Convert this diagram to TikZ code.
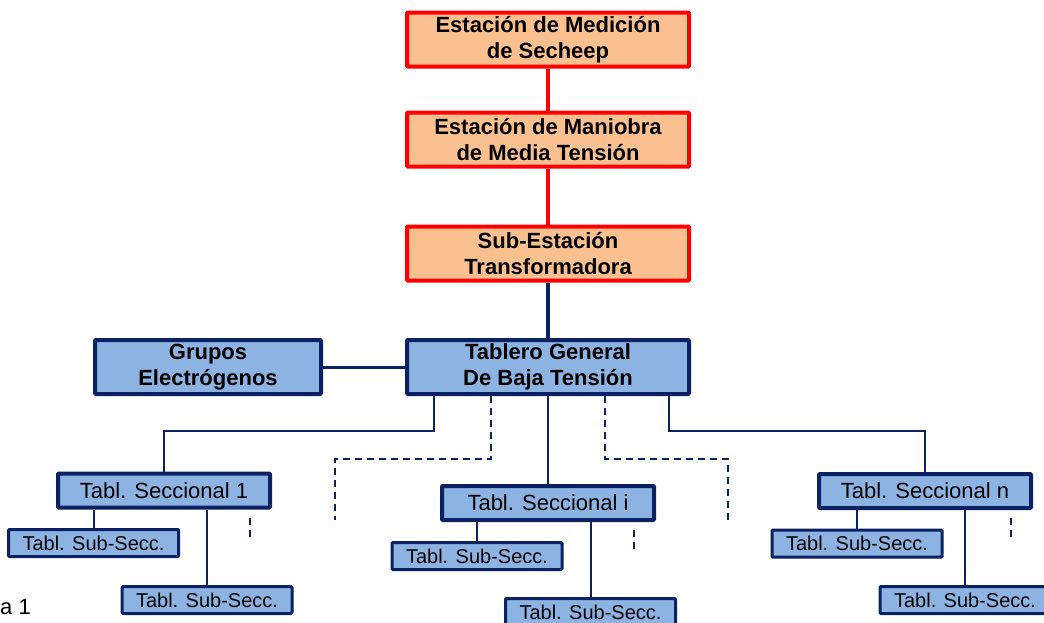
\documentclass[tikz,border=0pt]{standalone}
\usepackage{fontspec}
\setmainfont{Liberation Sans}
\usetikzlibrary{positioning}
\usetikzlibrary{calc}

\definecolor{peach}{HTML}{FAC090}
\definecolor{skyfill}{HTML}{8DB3E2}
\definecolor{navy}{HTML}{0A2264}

\begin{document}
\begin{tikzpicture}[x=1pt, y=-1pt,
    redbox/.style={draw=red, fill=peach, line width=4pt, rounded corners=1pt, minimum width=282pt, minimum height=54pt, inner sep=0pt, align=center, font=\fontsize{22}{26}\selectfont\bfseries},
    bigbox/.style={draw=navy, fill=skyfill, line width=4pt, rounded corners=1pt, minimum height=54pt, inner sep=0pt, align=center, font=\fontsize{22}{26}\selectfont\bfseries},
    secbox/.style={draw=navy, fill=skyfill, line width=4pt, rounded corners=1pt, minimum width=212pt, minimum height=34pt, inner sep=0pt, font=\fontsize{22}{26}\selectfont},
    subbox/.style={draw=navy, fill=skyfill, line width=3pt, rounded corners=1pt, minimum width=170pt, minimum height=27pt, inner sep=0pt, font=\fontsize{20}{24}\selectfont},
    redline/.style={draw=red, line width=4pt},
    mainline/.style={draw=navy, line width=2.5pt},
    subline/.style={draw=navy, line width=2pt},
    dashline/.style={draw=navy, line width=2pt, dash pattern=on 7pt off 5pt}]

      % Page frame
      \useasboundingbox (0,0) rectangle (1044,622);

      % Medium voltage chain
      \node[redbox] (med) at (548, 39.5) {Estación de Medición\\de Secheep};
      \node[redbox] (man) at (548, 139.5) {Estación de Maniobra\\de Media Tensión};
      \node[redbox] (set) at (548, 253.5) {Sub-Estación\\Transformadora};

      % Low voltage board and generators
      \node[bigbox, minimum width=282pt] (tgbt) at (548, 367) {Tablero General\\De Baja Tensión};
      \node[bigbox, minimum width=226pt] (gen) at (208, 367) {Grupos\\Electrógenos};

      \draw[redline] (med) -- (man);
      \draw[redline] (man) -- (set);
      \draw[navy, line width=4pt] (set) -- (tgbt);
      \draw[navy, line width=3pt] (gen) -- (tgbt);

      % Sectional boards
      \node[secbox] (sec1) at (164, 490.5) {Tabl. Seccional 1};
      \node[secbox] (seci) at (548, 503) {Tabl. Seccional i};
      \node[secbox] (secn) at (925, 491) {Tabl. Seccional n};

      \draw[mainline] ([xshift=-114pt]tgbt.south) -- ++(0,35) -| (sec1.north);
      \draw[mainline] (tgbt.south) -- (seci.north);
      \draw[mainline] ([xshift=121pt]tgbt.south) -- ++(0,35) -| (secn.north);

      % Boards not shown
      \draw[dashline] ([xshift=-57pt]tgbt.south) -- ++(0,63) -- ++(-156,0) -- ++(0,61);
      \draw[dashline] ([xshift=57pt]tgbt.south) -- ++(0,63) -- ++(123,0) -- ++(0,61);

      % Sub-sectional boards
      \node[subbox] (s1a) at (93.5, 543) {Tabl. Sub-Secc.};
      \node[subbox] (s1b) at (207, 600) {Tabl. Sub-Secc.};
      \node[subbox] (sia) at (477, 556) {Tabl. Sub-Secc.};
      \node[subbox] (sib) at (590.5, 612) {Tabl. Sub-Secc.};
      \node[subbox] (sna) at (857, 543.5) {Tabl. Sub-Secc.};
      \node[subbox] (snb) at (965, 600) {Tabl. Sub-Secc.};

      \foreach \s/\a/\b in {sec1/s1a/s1b, seci/sia/sib, secn/sna/snb} {
        \draw[subline] (\s.south -| \a.north) -- (\a.north);
        \draw[subline] (\s.south -| \b.north) -- (\b.north);
        % More sub-sectional boards
        \draw[dashline] ([xshift=86pt, yshift=-8pt]\s.south) -- ++(0,20);
      }

      % Caption, cut by the page edge
      \node[anchor=base west, inner sep=0pt, font=\fontsize{22}{26}\selectfont] (cap) at (0,614) {a 1};

    \end{tikzpicture}
\end{document}
